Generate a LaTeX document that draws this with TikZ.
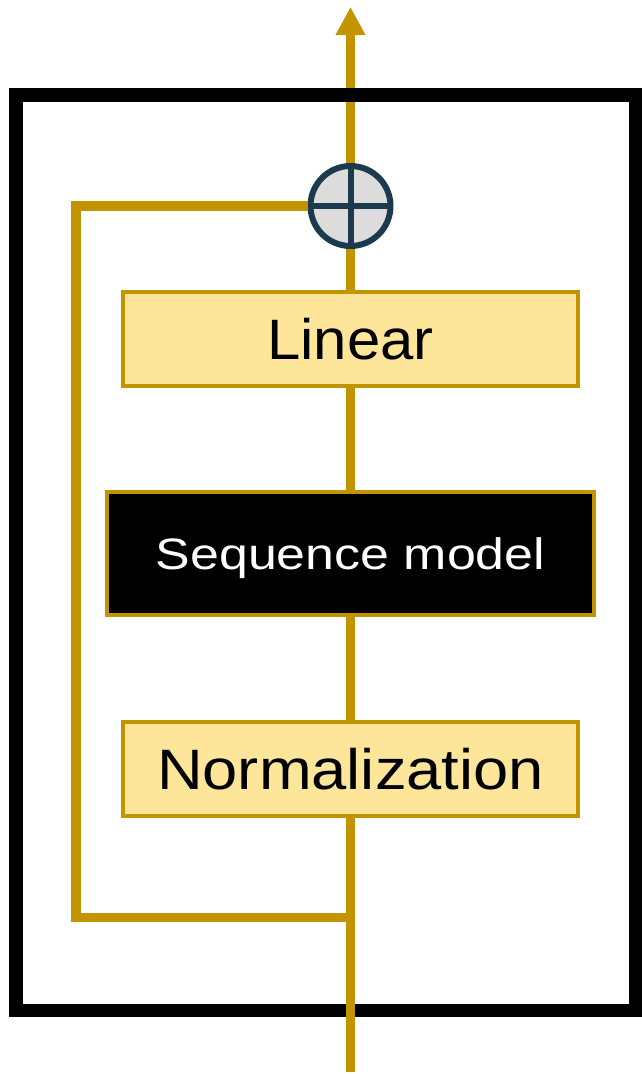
\documentclass[tikz,border=0pt]{standalone}
\usepackage{fontspec}
\setmainfont{Liberation Sans}
\usetikzlibrary{arrows.meta}

\definecolor{gold}{HTML}{C29500}
\definecolor{paleyellow}{HTML}{FDE599}
\definecolor{ringblue}{HTML}{1B3A4E}
\definecolor{ringfill}{HTML}{DCDCDC}

\tikzset{
  flow/.style={draw=gold, line width=9.5pt, line join=miter},
  layerbox/.style={draw=gold, line width=4pt, fill=paleyellow, inner sep=0pt,
    minimum width=455pt, minimum height=94pt, text depth=0pt,
    font=\fontsize{57}{60}\selectfont},
  blockbox/.style={draw=gold, line width=4pt, fill=black, text=white, inner sep=0pt,
    minimum width=487pt, minimum height=123pt, text depth=0pt,
    font=\fontsize{44}{48}\selectfont},
  addnode/.style={circle, draw=ringblue, line width=6pt, fill=ringfill,
    minimum size=80pt, inner sep=0pt},
  crossbar/.style={draw=ringblue, line width=6pt, shorten <=3pt, shorten >=3pt},
  frame/.style={draw=black, line width=13.5pt, line join=miter},
}

\begin{document}
\begin{tikzpicture}[x=1pt, y=-1pt]
  \useasboundingbox (0,0) rectangle (641,1074);

  % layers of the block
  \node[layerbox] (norm) at (350.5,768.5) {\scalebox{1.11}[1]{Normalization}};
  \node[blockbox] (seq) at (350.5,553.5) {\scalebox{1.18}[1]{Sequence model}};
  \node[layerbox] (lin) at (350.5,338.5) {\scalebox{1.05}[1]{Linear}};
  \node[addnode] (add) at (350.5,206) {};
  \draw[crossbar] (add.north) -- (add.south);
  \draw[crossbar] (add.west) -- (add.east);

  % input, output and skip path points
  \coordinate (in) at (350.5,1072);
  \coordinate (out) at (350.5,7);
  \coordinate (split) at (350.5,917.5);
  \coordinate (skipbot) at (76,917.5);
  \coordinate (skiptop) at (76,206);

  % output leaves through the frame
  \draw[flow, -{Triangle[length=28pt, width=28pt]}] (add.north) -- (out);

  % outer frame of the block
  \draw[frame] (16,95) rectangle (635.5,1010.5);

  % main data path
  \draw[flow] (in) -- (norm.south);
  \draw[flow] (norm.north) -- (seq.south);
  \draw[flow] (seq.north) -- (lin.south);
  \draw[flow] (lin.north) -- (add.south);

  % residual connection
  \draw[flow, shorten <=-4.75pt] (split) -- (skipbot) -- (skiptop) -- (add.west);
\end{tikzpicture}
\end{document}
